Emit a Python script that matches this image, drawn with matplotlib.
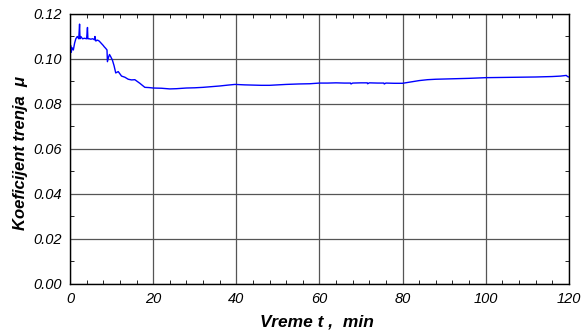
import matplotlib
matplotlib.use("Agg")
from matplotlib import pyplot as plt
from matplotlib.ticker import MultipleLocator

# readings taken off the original curve: time in min, friction coefficient
vreme = [0.0, 0.05, 0.15, 0.3, 0.5, 0.8, 1.1, 1.4, 1.75, 2.1, 2.3, 2.4, 2.6, 3.0,
         3.5, 4.0, 4.2, 4.3, 4.6, 5.0, 5.5, 5.9, 6.0, 6.2, 6.6, 7.0, 7.5, 8.0,
         8.2, 8.6, 8.9, 9.0, 9.3, 9.5, 9.8, 10.2, 10.6, 11.0, 11.6, 12.4, 13.2,
         14.0, 14.8, 15.6, 16.8, 18.0, 19.0, 20.0, 22.0, 24.0, 25.6, 28.0, 30.0,
         32.0, 34.0, 36.0, 38.0, 39.7, 42.0, 44.0, 46.0, 48.0, 50.0, 52.0, 55.0,
         57.7, 60.0, 62.0, 64.0, 66.0, 67.5, 67.6, 68.0, 70.0, 71.5, 71.6, 72.0,
         74.0, 75.5, 75.6, 76.0, 78.0, 80.0, 82.0, 84.0, 86.0, 88.0, 92.0, 96.0,
         100.0, 104.0, 108.0, 112.0, 116.0, 118.0, 119.4, 119.7, 120.0]
mi = [0.079, 0.103, 0.106, 0.103, 0.105, 0.104, 0.107, 0.109, 0.110, 0.109,
      0.1155, 0.109, 0.110, 0.109, 0.1092, 0.109, 0.114, 0.109, 0.109, 0.1088,
      0.109, 0.1085, 0.110, 0.108, 0.1084, 0.108, 0.107, 0.106, 0.1055, 0.1047,
      0.104, 0.0988, 0.101, 0.102, 0.101, 0.0995, 0.097, 0.0938, 0.0944,
      0.0924, 0.0919, 0.0910, 0.0907, 0.0908, 0.0892, 0.0874, 0.0873, 0.0871,
      0.0870, 0.0867, 0.0868, 0.0871, 0.0872, 0.0874, 0.0877, 0.0880, 0.0884,
      0.0887, 0.0885, 0.0884, 0.0883, 0.0883, 0.0885, 0.0887, 0.0889, 0.0890,
      0.0893, 0.0893, 0.0894, 0.0893, 0.0893, 0.0889, 0.0893, 0.0894, 0.0894,
      0.0890, 0.0894, 0.0893, 0.0893, 0.0889, 0.0893, 0.0892, 0.0892, 0.0898,
      0.0904, 0.0908, 0.0910, 0.0912, 0.0914, 0.0917, 0.0918, 0.0919, 0.0920,
      0.0922, 0.0924, 0.0927, 0.0922, 0.0920]

plt.rcParams['font.family'] = ['Liberation Sans', 'DejaVu Sans']

fig = plt.figure(figsize=(5.81, 3.30), dpi=100)
ax = fig.add_axes([0.1205, 0.1394, 0.8585, 0.8182])

ax.plot(vreme, mi, color='#0000ff', linewidth=1.0)

ax.set_xlim(0, 120)
ax.set_ylim(0, 0.12)
ax.xaxis.set_major_locator(MultipleLocator(20))
ax.xaxis.set_minor_locator(MultipleLocator(4))
ax.yaxis.set_major_locator(MultipleLocator(0.02))
ax.yaxis.set_minor_locator(MultipleLocator(0.01))
ax.yaxis.set_major_formatter(matplotlib.ticker.FormatStrFormatter('%.2f'))
ax.grid(True, which='major', color='#555555', linewidth=0.9)
ax.tick_params(which='both', direction='in', top=True, right=True,
               labelsize=10.5)
ax.tick_params(which='major', length=0, pad=6)
ax.tick_params(which='minor', length=3, width=0.6)
for lab in ax.get_xticklabels() + ax.get_yticklabels():
    lab.set_fontstyle('italic')
for s in ax.spines.values():
    s.set_linewidth(1.0)

ax.set_xlabel('Vreme t ,  min', fontsize=12.5, fontweight='bold',
              fontstyle='italic')
ax.xaxis.set_label_coords(0.496, -0.113, transform=ax.transAxes)
ax.set_ylabel('Koeficijent trenja  μ', fontsize=12, fontweight='bold',
              fontstyle='italic')
ax.yaxis.set_label_coords(-0.084, 0.485, transform=ax.transAxes)

fig.savefig('out.png', dpi=100)
